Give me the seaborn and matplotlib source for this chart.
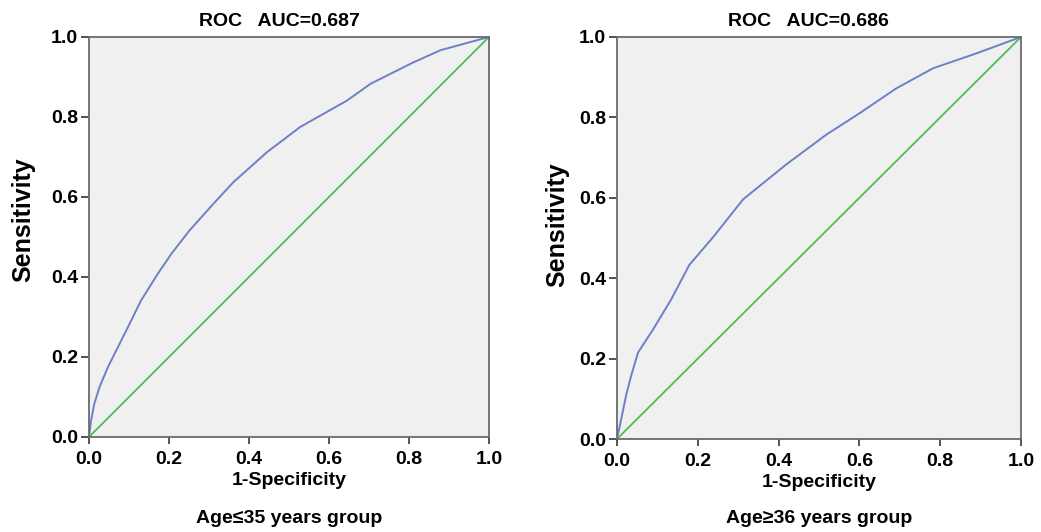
import matplotlib
matplotlib.use("Agg")
import matplotlib.pyplot as plt
import pandas as pd
import seaborn as sns

# ROC curve, age <= 35 group
fpr_young = [0.0, 0.005, 0.013, 0.026, 0.047, 0.072, 0.097, 0.130, 0.172, 0.206,
             0.251, 0.311, 0.361, 0.445, 0.528, 0.645, 0.704, 0.812, 0.879, 1.0]
tpr_young = [0.0, 0.040, 0.082, 0.124, 0.174, 0.224, 0.274, 0.341, 0.408, 0.458,
             0.516, 0.583, 0.637, 0.712, 0.775, 0.841, 0.883, 0.937, 0.967, 1.0]

# ROC curve, age >= 36 group
fpr_old = [0.0, 0.007, 0.023, 0.035, 0.052, 0.089, 0.134, 0.179, 0.237, 0.312,
           0.419, 0.518, 0.600, 0.691, 0.782, 0.889, 1.0]
tpr_old = [0.0, 0.033, 0.111, 0.157, 0.215, 0.272, 0.347, 0.433, 0.501, 0.596,
           0.683, 0.757, 0.810, 0.872, 0.922, 0.959, 1.0]

ref_line = [0.0, 1.0]
ticks = [0.0, 0.2, 0.4, 0.6, 0.8, 1.0]
tick_labels = ["0.0", "0.2", "0.4", "0.6", "0.8", "1.0"]

titles = ["ROC   AUC=0.687", "ROC   AUC=0.686"]
groups = ["Age\u226435 years group", "Age\u226536 years group"]

sns.set_style("white")
plt.rcParams["font.family"] = ["Liberation Sans", "DejaVu Sans"]
plt.rcParams["text.color"] = "black"
plt.rcParams["axes.labelcolor"] = "black"
plt.rcParams["xtick.color"] = "black"
plt.rcParams["ytick.color"] = "black"

fig = plt.figure(figsize=(10.41, 5.32), dpi=100)
ax1 = fig.add_axes([0.0855, 0.1786, 0.3842, 0.7519])
ax2 = fig.add_axes([0.5927, 0.1748, 0.3881, 0.7557])

panels = [(ax1, fpr_young, tpr_young, -0.205, (-0.135, 0.543)),
          (ax2, fpr_old, tpr_old, -0.197, (-0.119, 0.532))]
for i, (ax, fx, ty, gy, lab_xy) in enumerate(panels):
    ax.set_facecolor("#f0f0f0")
    df = pd.DataFrame({"x": fx, "y": ty})
    sns.lineplot(x=ref_line, y=ref_line, ax=ax, color="#4cbf4c", linewidth=1.3)
    sns.lineplot(data=df, x="x", y="y", ax=ax, sort=False, estimator=None,
                 color="#6e7fc9", linewidth=1.4)
    ax.set_xlim(0, 1)
    ax.set_ylim(0, 1)
    ax.set_xticks(ticks)
    ax.set_yticks(ticks)
    ax.set_xticklabels(tick_labels, fontsize=14, fontweight="bold")
    ax.set_yticklabels(tick_labels, fontsize=14, fontweight="bold")
    ax.tick_params(axis="x", direction="out", length=5, width=1.3, color="#444444",
                   pad=5, bottom=True)
    ax.tick_params(axis="y", direction="out", length=6, width=1.3, color="#444444",
                   pad=2, left=True)
    for sp in ax.spines.values():
        sp.set_color("#6a6a6a")
        sp.set_linewidth(1.3)
    ax.set_title(titles[i], fontsize=14, fontweight="bold", pad=8, x=0.475)
    ax.set_xlabel("1-Specificity", fontsize=14, fontweight="bold", labelpad=3)
    ax.set_ylabel("Sensitivity", fontsize=18, fontweight="bold")
    ax.yaxis.set_label_coords(*lab_xy)
    ax.text(0.5, gy, groups[i], transform=ax.transAxes, ha="center", va="center",
            fontsize=14, fontweight="bold")

fig.savefig("out.png", dpi=100)
